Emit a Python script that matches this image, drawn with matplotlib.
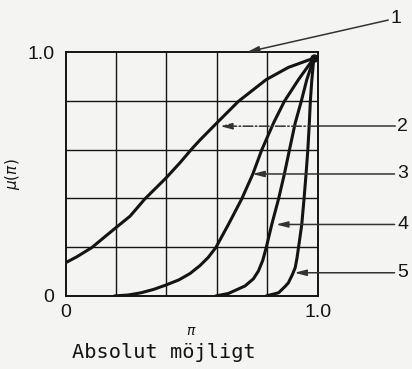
import matplotlib
matplotlib.use('Agg')
import matplotlib.pyplot as plt

plt.rcParams['font.family'] = ['Liberation Sans', 'DejaVu Sans']

# curves (pi, mu(pi))
pi_2 = [0.0, 0.044, 0.104, 0.194, 0.256, 0.315, 0.399, 0.454, 0.501, 0.534, 0.596,
        0.686, 0.796, 0.884, 0.985]
mu_2 = [0.136, 0.16, 0.198, 0.275, 0.327, 0.398, 0.484, 0.546, 0.603, 0.64, 0.705,
        0.798, 0.887, 0.937, 0.975]

pi_3 = [0.194, 0.25, 0.30, 0.35, 0.399, 0.45, 0.494, 0.534, 0.566, 0.596, 0.646, 0.699,
        0.743, 0.778, 0.825, 0.868, 0.924, 0.985]
mu_3 = [0.0, 0.004, 0.013, 0.027, 0.045, 0.066, 0.092, 0.125, 0.158, 0.198, 0.293, 0.398,
        0.50, 0.598, 0.709, 0.798, 0.887, 0.975]

pi_4 = [0.596, 0.646, 0.712, 0.745, 0.765, 0.782, 0.796, 0.818, 0.845, 0.868, 0.888,
        0.911, 0.935, 0.957, 0.985]
mu_4 = [0.0, 0.01, 0.041, 0.07, 0.102, 0.145, 0.198, 0.293, 0.398, 0.50, 0.598,
        0.709, 0.798, 0.887, 0.975]

pi_5 = [0.796, 0.845, 0.872, 0.884, 0.90, 0.911, 0.918, 0.924, 0.937, 0.946, 0.954,
        0.961, 0.967, 0.971, 0.977, 0.985]
mu_5 = [0.0, 0.013, 0.04, 0.054, 0.088, 0.116, 0.155, 0.198, 0.293, 0.398, 0.50,
        0.598, 0.709, 0.798, 0.887, 0.975]

# callout labels: name, arrow tip (pi, mu), label height
labels = ['1', '2', '3', '4', '5']
tips = [(0.72, 1.0), (0.613, 0.696), (0.741, 0.50), (0.835, 0.293), (0.908, 0.095)]
label_y = [1.139, 0.696, 0.50, 0.293, 0.095]

ink = '#141414'
bg = '#f4f4f2'

fig = plt.figure(figsize=(4.12, 3.69), dpi=100, facecolor=bg)
ax = fig.add_axes([0.159, 0.198, 0.612, 0.661], facecolor=bg)

for v in [0.2, 0.4, 0.6, 0.8]:
    ax.axvline(v, color=ink, lw=1.0, zorder=1)
    ax.axhline(v, color=ink, lw=1.0, zorder=1)

for xs, ys in [(pi_2, mu_2), (pi_3, mu_3), (pi_4, mu_4), (pi_5, mu_5)]:
    ax.plot(xs, ys, color=ink, lw=2.2, solid_capstyle='round',
            solid_joinstyle='round', zorder=3)
ax.plot([0.985], [0.975], marker='o', ms=5, color=ink, zorder=4)

ax.set_xlim(0, 1)
ax.set_ylim(0, 1)
for s in ax.spines.values():
    s.set_linewidth(1.4)
    s.set_color(ink)

ax.set_xticks([0, 1], ['0', '1.0'])
ax.set_yticks([0, 1], ['0', '1.0'])
ax.tick_params(length=0, labelsize=14, colors=ink)
ax.tick_params(axis='x', pad=6)
ax.tick_params(axis='y', pad=8)
ax.set_xlabel(r'$\pi$', fontsize=10, labelpad=2, color=ink)
ax.set_ylabel(r'$\mu(\pi)$', fontsize=11, labelpad=4, color=ink)

arrow = dict(arrowstyle='-|>,head_length=0.7,head_width=0.18', color='#333333',
             lw=1.1, shrinkA=0, shrinkB=0, mutation_scale=10)
for name, tip, ly in zip(labels, tips, label_y):
    if name == '1':
        start = (1.28, 1.131)
        ax.annotate('', xy=tip, xytext=start, arrowprops=arrow, annotation_clip=False)
        ax.text(1.29, ly, name, fontsize=14, va='center', ha='left', color=ink, clip_on=False)
        continue
    if name == '2':
        # dash-dot inside the frame, solid outside
        a2 = dict(arrow, linestyle='-.')
        ax.annotate('', xy=tip, xytext=(1.0, ly), arrowprops=a2, annotation_clip=False)
        ax.plot([1.0, 1.305], [ly, ly], color='#333333', lw=1.1, clip_on=False)
    else:
        ax.annotate('', xy=tip, xytext=(1.305, ly), arrowprops=arrow, annotation_clip=False)
    ax.text(1.315, ly, name, fontsize=14, va='center', ha='left', color=ink, clip_on=False)

fig.text(72 / 412, 1 - 352 / 369, 'Absolut möjligt', family='DejaVu Sans Mono',
         fontsize=14.6, va='center', ha='left', color=ink)

fig.savefig('out.png', dpi=100, facecolor=bg)
